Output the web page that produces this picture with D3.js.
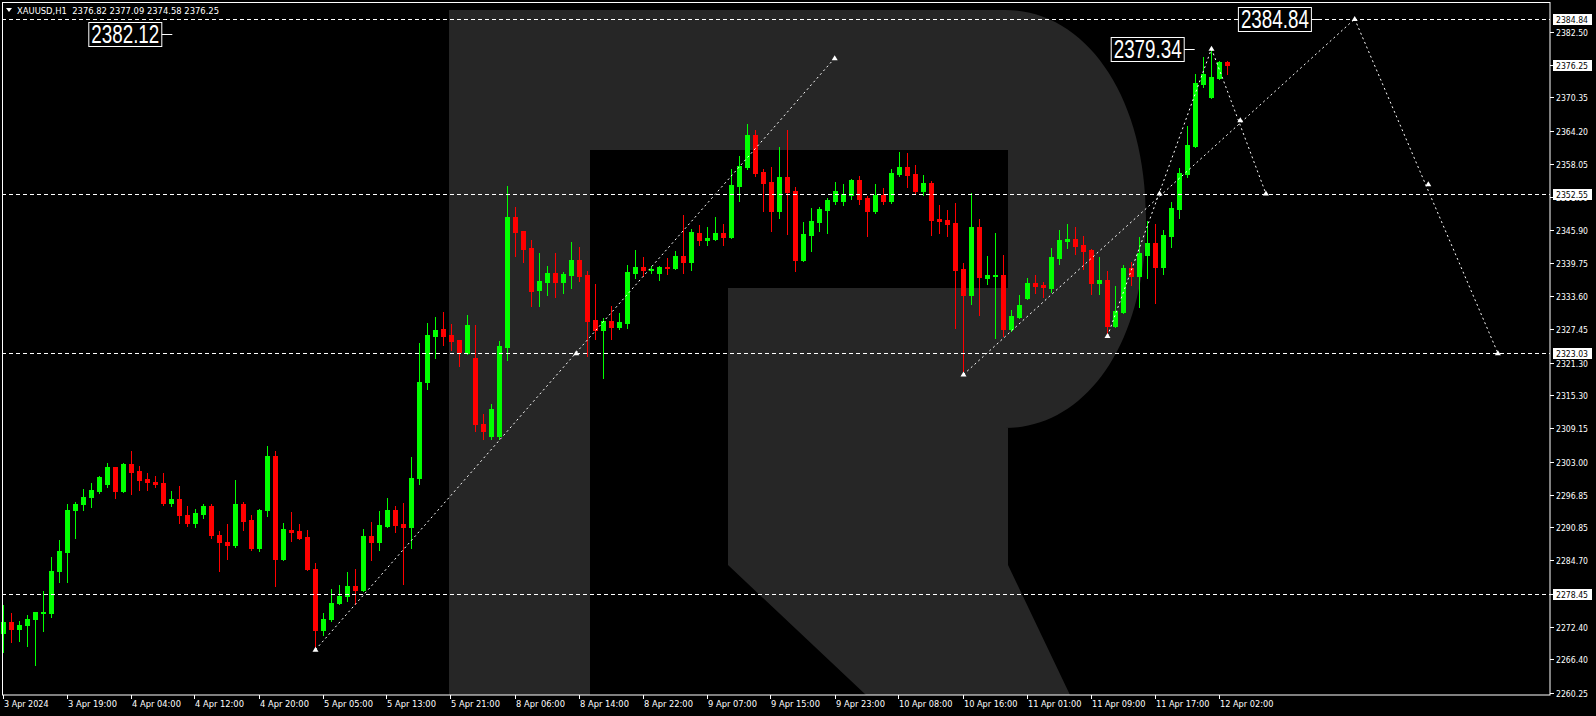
<!DOCTYPE html>
<html><head><meta charset="utf-8">
<script src="https://cdn.jsdelivr.net/npm/d3@7/dist/d3.min.js"></script>
<style>html,body{margin:0;padding:0;background:#000;overflow:hidden}</style>
</head><body>
<svg id="c" width="1596" height="716"></svg>
<script>
// ---- data (XAUUSD H1, bars 0..153) ----
const opens = [2271.2,2273.4,2272.1,2272.7,2273.8,2274.9,2274.9,2282.7,2286.2,2294.0,2295.1,2296.4,2297.5,2298.8,2301.9,2297.5,2302.5,2301.2,2299.7,2299.3,2299.0,2295.3,2296.0,2293.2,2291.6,2293.3,2294.7,2289.5,2288.2,2287.5,2295.2,2292.1,2287.0,2294.0,2304.1,2284.9,2290.4,2290.1,2289.0,2283.2,2271.8,2273.8,2276.8,2278.1,2279.9,2279.2,2289.3,2288.1,2291.0,2294.1,2291.4,2290.9,2299.9,2317.8,2326.2,2327.5,2326.4,2325.4,2323.0,2322.1,2309.9,2307.7,2307.7,2324.1,2348.2,2345.6,2342.5,2334.7,2336.2,2337.8,2336.2,2337.5,2340.3,2337.5,2329.1,2327.3,2329.0,2327.8,2328.6,2337.8,2339.0,2338.4,2337.8,2339.0,2338.8,2341.0,2339.9,2345.2,2344.0,2344.1,2345.2,2344.5,2354.0,2357.5,2363.4,2356.5,2354.7,2349.3,2355.6,2353.0,2340.3,2344.9,2347.3,2349.5,2351.2,2351.2,2352.3,2355.1,2351.7,2349.3,2352.3,2351.2,2356.2,2357.5,2356.2,2353.0,2354.5,2347.8,2347.7,2347.1,2338.6,2333.8,2346.4,2336.9,2337.3,2337.5,2327.5,2329.7,2333.2,2336.0,2335.6,2335.1,2340.6,2343.8,2344.1,2343.0,2342.1,2336.0,2336.5,2328.0,2330.6,2338.8,2337.3,2341.2,2343.4,2339.0,2344.7,2349.7,2356.2,2361.4,2372.8,2370.4,2374.0,2376.82];
const highs = [2276.4,2274.9,2273.6,2274.7,2275.2,2279.1,2285.4,2288.4,2295.2,2295.6,2298.0,2299.0,2300.3,2302.7,2302.0,2302.7,2304.9,2302.1,2300.8,2300.4,2300.8,2297.5,2298.4,2294.7,2294.3,2295.2,2295.2,2290.1,2291.4,2299.5,2295.6,2293.2,2294.2,2305.8,2304.9,2291.7,2293.6,2291.4,2290.4,2284.3,2274.9,2279.5,2280.1,2282.5,2283.2,2290.6,2291.9,2293.8,2296.2,2294.7,2295.4,2303.8,2324.9,2328.6,2329.7,2330.6,2328.4,2325.5,2330.1,2328.2,2311.7,2313.6,2325.2,2354.0,2350.1,2345.7,2344.0,2341.5,2339.1,2341.5,2338.0,2343.6,2342.7,2338.2,2335.8,2329.5,2331.7,2330.4,2339.3,2342.1,2340.8,2339.1,2339.1,2340.6,2341.9,2348.6,2346.0,2346.7,2346.4,2348.2,2346.9,2357.1,2359.5,2365.4,2364.3,2357.1,2357.5,2361.2,2364.3,2353.8,2347.3,2349.9,2350.1,2351.7,2354.7,2354.3,2355.2,2355.8,2352.1,2354.3,2353.6,2357.1,2360.3,2360.1,2357.8,2356.0,2354.9,2350.4,2349.5,2350.8,2339.7,2352.7,2347.8,2341.0,2345.2,2341.2,2331.0,2333.8,2336.9,2337.5,2336.2,2342.5,2345.8,2346.9,2346.4,2344.7,2342.3,2340.8,2338.2,2335.4,2339.3,2339.9,2344.5,2347.5,2346.9,2345.8,2351.0,2357.3,2365.1,2374.7,2377.8,2379.34,2377.1,2377.09];
const lows = [2267.7,2269.6,2269.9,2268.8,2265.4,2271.6,2274.2,2280.7,2280.7,2288.8,2294.0,2294.6,2297.1,2298.3,2296.2,2297.3,2297.0,2297.7,2297.7,2298.3,2294.9,2294.8,2291.6,2291.0,2290.9,2292.5,2288.8,2282.7,2284.9,2287.2,2290.3,2286.6,2286.4,2292.9,2279.9,2284.7,2288.3,2288.6,2282.9,2268.2,2270.9,2273.6,2276.6,2277.3,2276.6,2279.0,2284.7,2286.6,2290.9,2289.9,2280.3,2287.0,2298.8,2316.4,2322.1,2324.5,2323.6,2320.7,2322.8,2308.6,2307.1,2307.1,2307.1,2321.7,2341.0,2339.9,2331.7,2331.7,2333.8,2333.4,2334.1,2335.1,2336.4,2322.5,2325.6,2318.4,2325.6,2327.5,2327.7,2336.9,2337.3,2337.8,2336.5,2337.7,2338.6,2337.8,2338.4,2343.0,2343.0,2344.0,2343.0,2344.3,2351.2,2357.1,2355.8,2349.3,2345.6,2348.0,2345.1,2338.2,2340.1,2341.9,2345.6,2345.2,2350.6,2350.4,2351.5,2350.6,2344.7,2349.0,2350.6,2350.8,2355.8,2353.8,2352.7,2352.3,2344.9,2345.2,2344.7,2327.7,2319.1,2332.1,2330.1,2335.8,2325.8,2326.2,2327.1,2329.5,2333.0,2334.1,2333.4,2334.3,2339.5,2342.5,2341.4,2338.6,2334.0,2334.0,2326.2,2327.8,2330.4,2335.6,2331.5,2336.9,2332.3,2337.7,2342.7,2348.0,2355.6,2361.2,2372.3,2370.2,2373.8,2374.58];
const closes = [2273.4,2272.0,2272.8,2273.9,2275.1,2275.2,2282.8,2286.4,2294.1,2295.2,2296.5,2297.7,2300.2,2301.9,2297.5,2302.5,2301.0,2299.6,2299.2,2298.8,2295.3,2296.0,2293.1,2291.6,2293.4,2294.7,2289.4,2288.1,2287.5,2295.2,2292.0,2287.0,2294.1,2304.1,2284.9,2290.6,2289.9,2288.8,2283.1,2271.8,2273.9,2276.9,2278.2,2279.9,2279.2,2289.3,2288.1,2291.2,2294.1,2291.2,2290.9,2299.9,2317.8,2326.4,2327.3,2326.2,2325.2,2323.2,2328.2,2309.9,2308.6,2312.7,2324.3,2348.2,2345.4,2342.3,2334.5,2336.4,2337.8,2336.2,2337.7,2340.3,2337.3,2329.0,2327.3,2329.0,2327.8,2328.8,2338.0,2339.0,2338.4,2338.6,2339.0,2338.8,2341.0,2339.9,2345.4,2344.0,2344.3,2345.2,2344.5,2354.1,2357.7,2363.4,2356.4,2354.5,2349.3,2355.6,2352.8,2340.3,2345.1,2347.5,2349.7,2351.4,2353.0,2352.5,2355.1,2351.5,2349.3,2352.3,2351.2,2356.4,2357.5,2356.0,2353.0,2354.5,2347.7,2347.5,2346.9,2338.4,2333.8,2346.4,2337.1,2337.5,2337.5,2327.5,2329.9,2331.9,2336.0,2335.4,2335.2,2340.8,2344.0,2344.1,2342.8,2341.9,2336.0,2336.5,2328.0,2330.8,2338.8,2337.3,2341.5,2343.4,2339.0,2344.9,2349.9,2356.4,2361.5,2373.0,2374.7,2374.1,2376.9,2376.25];

const timeTickIdx    = [0,8,16,24,32,40,48,56,64,72,80,88,96,104,112,120,128,136,144,152];
const timeTickLabels = ["3 Apr 2024","3 Apr 19:00","4 Apr 04:00","4 Apr 12:00","4 Apr 20:00","5 Apr 05:00","5 Apr 13:00","5 Apr 21:00","8 Apr 06:00","8 Apr 14:00","8 Apr 22:00","9 Apr 07:00","9 Apr 15:00","9 Apr 23:00","10 Apr 08:00","10 Apr 16:00","11 Apr 01:00","11 Apr 09:00","11 Apr 17:00","12 Apr 02:00"];
const priceTicks = [2382.50,2376.40,2370.35,2364.20,2358.05,2351.90,2345.90,2339.75,2333.60,2327.45,2321.30,2315.30,2309.15,2303.00,2296.85,2290.85,2284.70,2278.55,2272.40,2266.40,2260.25];
const levelPrices = [2384.84, 2352.55, 2323.03, 2278.45];
const levelLabels = ["2384.84","2352.55","2323.03","2278.45"];
const lastPrice = 2376.25;
const headerSymbol = "XAUUSD,H1";
const headerOHLC = ["2376.82","2377.09","2374.58","2376.25"];
// forecast / trend lines: [startIndex, startPrice, endIndex, endPrice]
const trendLines = [
  [39, 2268.2, 103.9, 2377.6],
  [120, 2319.1, 168.9, 2384.84],
  [138, 2326.2, 151, 2379.34],
  [151, 2379.34, 157.8, 2352.55],
  [168.9, 2384.84, 186.8, 2323.03]
];
const markerPts = [[39,2268.2],[71.6,2323.03],[103.9,2377.6],[120,2319.1],[138,2326.2],[144.5,2352.55],[151,2379.34],[154.6,2366.1],[157.8,2352.55],[168.9,2384.84],[178.1,2354.3],[186.8,2323.03]];
const bigLabels = [ {t:"2382.12", i:10.6}, {t:"2379.34", i:138.4}, {t:"2384.84", i:154.3} ];
const bigLabelPrices = [2382.12, 2379.34, 2384.84];

// ---- scales ----
const svg = d3.select("#c");
const x = d3.scaleLinear().domain([0, 153]).range([3.5, 3.5 + 8*153]);
const y = d3.scaleLinear().domain([2260.25, 2384.84]).range([692.7, 19]);
const W = 1596, H = 716, plotR = 1550, plotB = 695;

svg.append("rect").attr("width", W).attr("height", H).attr("fill", "#000");

// ---- watermark R ----
const g0 = svg.append("g").attr("fill", "#262626");
g0.append("rect").attr("x", 449).attr("y", 10).attr("width", 141).attr("height", 685);
g0.append("path").attr("d",
  "M590,10 H1005 C1085,10 1146,95 1146,218 C1146,345 1085,428 1005,428 H728 V288 H1008 V150 H590 Z");
g0.append("path").attr("d", "M728,428 H1008 L1008,565 L1070,695 H866 L728,565 Z");

// ---- candles ----
const idx = d3.range(opens.length);
const gc = svg.append("g");
idx.forEach(i => {
  const up = closes[i] >= opens[i];
  const col = up ? "#00ff00" : "#ff0000";
  const cx = x(i);
  gc.append("line").attr("x1", cx).attr("x2", cx)
    .attr("y1", Math.round(y(highs[i]))).attr("y2", Math.round(y(lows[i])) + 1)
    .attr("stroke", col).attr("stroke-width", 1);
  const t = Math.round(y(Math.max(opens[i], closes[i])));
  const b = Math.round(y(Math.min(opens[i], closes[i])));
  gc.append("rect").attr("x", cx - 2.5).attr("y", t)
    .attr("width", 5).attr("height", Math.max(1, b - t + 1)).attr("fill", col);
});

// ---- horizontal levels ----
levelPrices.forEach(p => {
  const yy = Math.round(y(p)) + 0.5;
  svg.append("line").attr("x1", 2).attr("x2", plotR).attr("y1", yy).attr("y2", yy)
    .attr("stroke", "#fff").attr("stroke-width", 1).attr("stroke-dasharray", "4,3");
});

// ---- trend lines ----
trendLines.forEach(d => {
  svg.append("line").attr("x1", x(d[0])).attr("y1", y(d[1])).attr("x2", x(d[2])).attr("y2", y(d[3]))
    .attr("stroke", "#fff").attr("stroke-width", 1).attr("stroke-dasharray", "2,3");
});
markerPts.forEach(d => {
  const mx = x(d[0]), my = y(d[1]);
  svg.append("path").attr("d", `M${mx-3},${my+2} L${mx},${my-3} L${mx+3},${my+2} Z`).attr("fill", "#fff");
});

// ---- big price labels ----
bigLabels.forEach((d, k) => {
  const bx = x(d.i), by = y(bigLabelPrices[k]);
  svg.append("rect").attr("x", bx + 0.5).attr("y", Math.round(by) - 11.5).attr("width", 73).attr("height", 24)
    .attr("fill", "#000").attr("stroke", "#fff").attr("stroke-width", 1);
  svg.append("text").attr("x", bx + 3).attr("y", Math.round(by) + 9)
    .attr("fill", "#fff").attr("font-family", "Liberation Sans, Arial, sans-serif").attr("font-size", 25)
    .attr("textLength", 68).attr("lengthAdjust", "spacingAndGlyphs").text(d.t);
  svg.append("line").attr("x1", bx + 73.5).attr("x2", bx + 84).attr("y1", Math.round(by) + 0.5).attr("y2", Math.round(by) + 0.5)
    .attr("stroke", "#fff");
});

// ---- frame ----
svg.append("rect").attr("x", 2.5).attr("y", 2.5).attr("width", plotR - 2.5).attr("height", plotB - 2.5)
  .attr("fill", "none").attr("stroke", "#fff").attr("stroke-width", 1);

// ---- price axis ----
const fontAx = "Tahoma, DejaVu Sans, Liberation Sans, sans-serif";
priceTicks.forEach(p => {
  const yy = Math.round(y(p)) + 0.5;
  svg.append("line").attr("x1", plotR).attr("x2", plotR + 4).attr("y1", yy).attr("y2", yy).attr("stroke", "#fff");
  svg.append("text").attr("x", 1556).attr("y", yy + 3.5).attr("fill", "#fff")
    .attr("font-family", fontAx).attr("font-size", 9.5)
    .attr("textLength", 32).attr("lengthAdjust", "spacingAndGlyphs").text(d3.format(".2f")(p));
});
const boxes = levelPrices.map((p, k) => ({p, t: levelLabels[k]})).concat([{p: lastPrice, t: d3.format(".2f")(lastPrice)}]);
boxes.forEach(d => {
  const yy = Math.round(y(d.p));
  svg.append("rect").attr("x", 1553).attr("y", yy - 5).attr("width", 39).attr("height", 11).attr("fill", "#fff");
  svg.append("text").attr("x", 1556).attr("y", yy + 4).attr("fill", "#000")
    .attr("font-family", fontAx).attr("font-size", 9.5)
    .attr("textLength", 32).attr("lengthAdjust", "spacingAndGlyphs").text(d.t);
});

// ---- time axis ----
timeTickIdx.forEach((ti, k) => {
  const xx = Math.round(x(ti)) - 0.5;
  svg.append("line").attr("x1", xx).attr("x2", xx).attr("y1", plotB).attr("y2", plotB + 4).attr("stroke", "#fff");
  const lab = timeTickLabels[k];
  svg.append("text").attr("x", xx + 0.5).attr("y", 707).attr("fill", "#fff")
    .attr("font-family", fontAx).attr("font-size", 9.5)
    .attr("textLength", lab.length * 4.45).attr("lengthAdjust", "spacingAndGlyphs").text(lab);
});

// ---- header ----
svg.append("path").attr("d", "M6,8 L12,8 L9,12 Z").attr("fill", "#fff");
const headerText = headerSymbol + "  " + headerOHLC.join(" ");
svg.append("text").attr("x", 17).attr("y", 14).attr("fill", "#fff").attr("font-family", fontAx)
  .attr("font-size", 9.5).attr("textLength", 202).attr("lengthAdjust", "spacingAndGlyphs")
  .attr("xml:space", "preserve").style("white-space", "pre").text(headerText);
</script>
</body></html>
